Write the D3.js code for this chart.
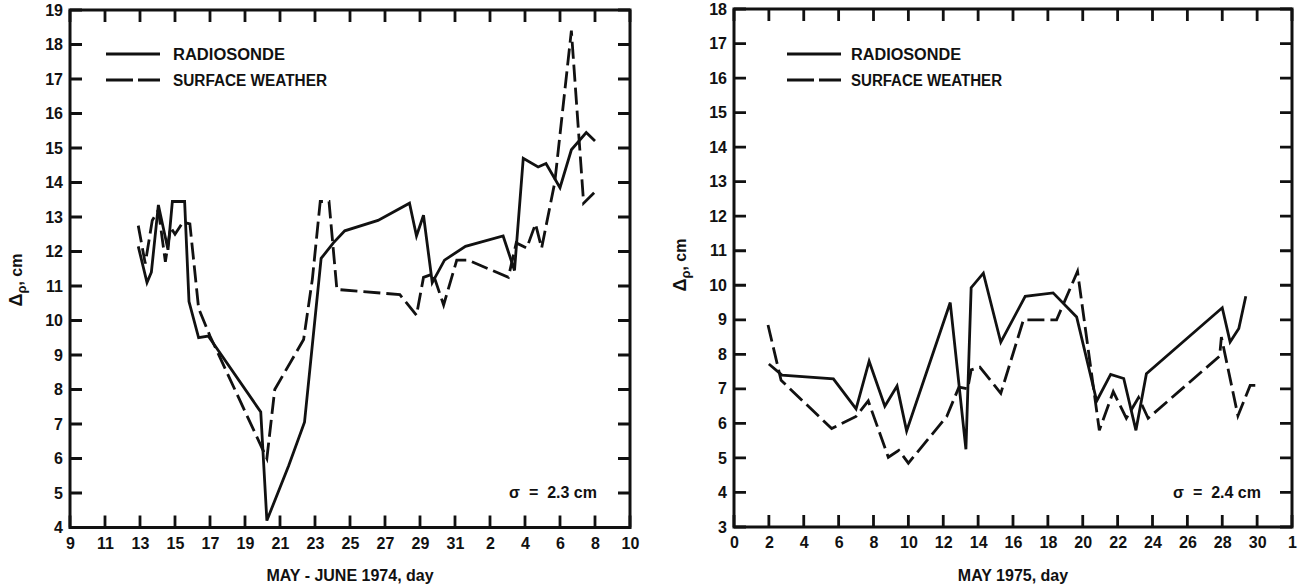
<!DOCTYPE html>
<html><head><meta charset="utf-8">
<script src="https://cdn.jsdelivr.net/npm/d3@7"></script>
<style>
body{margin:0;background:#fff}
svg text{font-family:"Liberation Sans",Arial,sans-serif;font-weight:bold;fill:#111}
</style>
</head><body><svg id="c" width="1300" height="584"></svg>
<script>
// ---------- DATA: 1974 (day counted from 1 May; 33 = 2 June) ----------
const rsDays1974 = [12.9,13.4,13.65,14.05,14.6,14.85,15.55,15.8,16.35,16.9,19.9,20.25,21.5,22.4,23.35,24.05,24.7,26.6,28.4,28.8,29.2,29.7,30.4,31.6,33.75,34.4,34.9,35.75,36.2,37.0,37.65,38.5,39.0];
const rsVals1974 = [12.15,11.1,11.4,13.35,12.05,13.45,13.45,10.55,9.5,9.55,7.35,4.2,5.8,7.05,11.8,12.25,12.6,12.9,13.4,12.45,13.05,11.1,11.75,12.15,12.45,11.45,14.7,14.45,14.55,13.85,14.95,15.45,15.2];
const swDays1974 = [12.9,13.3,13.7,14.05,14.45,14.75,15.0,15.45,15.85,16.35,17.0,20.25,20.7,22.35,22.85,23.3,23.8,24.25,27.85,28.8,29.2,29.75,30.35,31.1,31.75,34.05,34.5,35.1,35.6,35.95,36.7,37.65,38.35,38.95];
const swVals1974 = [12.75,11.65,12.9,13.2,11.7,12.7,12.5,12.85,12.8,10.35,9.55,6.0,8.0,9.45,11.2,13.45,13.45,10.9,10.75,10.15,11.25,11.35,10.45,11.75,11.75,11.25,12.25,12.1,12.8,12.1,14.0,18.4,13.4,13.7];
const xTicks1974 = [9,11,13,15,17,19,21,23,25,27,29,31,33,35,37,39,41];
const xLabels1974 = ["9","11","13","15","17","19","21","23","25","27","29","31","2","4","6","8","10"];
const yTicks1974 = [4,5,6,7,8,9,10,11,12,13,14,15,16,17,18,19];

// ---------- DATA: 1975 (day of May; 32 = 1 June) ----------
const rsDays1975 = [2.0,2.75,5.7,7.0,7.75,8.65,9.35,9.9,12.4,13.3,13.6,14.3,15.3,16.7,18.3,19.65,20.8,21.6,22.35,23.05,23.65,28.0,28.45,28.95,29.35];
const rsVals1975 = [7.72,7.4,7.29,6.42,7.8,6.5,7.08,5.78,9.5,5.25,9.93,10.35,8.35,9.68,9.78,9.08,6.65,7.42,7.3,5.8,7.44,9.35,8.36,8.75,9.68];
const swDays1975 = [1.95,2.7,5.6,7.0,7.7,8.85,9.45,10.0,12.2,12.9,13.4,13.6,14.1,15.3,16.6,18.5,19.7,20.95,21.75,22.5,23.2,23.75,27.85,27.95,28.9,29.6,30.0];
const swVals1975 = [8.85,7.25,5.85,6.2,6.65,5.02,5.22,4.85,6.2,7.05,7.0,7.55,7.63,6.87,9.0,9.0,10.4,5.8,6.92,6.15,6.75,6.15,7.95,8.5,6.22,7.1,7.1];
const xTicks1975 = [0,2,4,6,8,10,12,14,16,18,20,22,24,26,28,30,32];
const xLabels1975 = ["0","2","4","6","8","10","12","14","16","18","20","22","24","26","28","30","1"];
const yTicks1975 = [3,4,5,6,7,8,9,10,11,12,13,14,15,16,17,18];

const seriesNames = ["RADIOSONDE","SURFACE WEATHER"];

const svg = d3.select("#c");
const INK = "#111";
const TICK = 12;

function panel(cfg){
  const x = d3.scaleLinear().domain(cfg.xDomain).range([cfg.left, cfg.right]);
  const y = d3.scaleLinear().domain(cfg.yDomain).range([cfg.bottom, cfg.top]);
  const g = svg.append("g");

  const styleAxis = sel => {
    sel.select(".domain").remove();
    sel.selectAll(".tick line").remove();
    sel.selectAll("text").attr("font-size", 16).attr("fill", INK)
       .attr("font-family", '"Liberation Sans",Arial,sans-serif').attr("font-weight","bold");
  };

  g.append("g").attr("transform", `translate(0,${cfg.bottom})`)
    .call(d3.axisBottom(x).tickValues(cfg.xTicks).tickSize(0).tickPadding(10)
      .tickFormat((d,i)=>cfg.xLabels[i])).call(styleAxis);
  g.append("g").attr("transform", `translate(${cfg.left},0)`)
    .call(d3.axisLeft(y).tickValues(cfg.yTicks).tickSize(0).tickPadding(7)
      .tickFormat(d3.format("d"))).call(styleAxis);

  // inward tick marks on all four sides
  const tickPath = (vals, f) => vals.map(f).join("");
  g.append("path").attr("fill","none").attr("stroke", INK).attr("stroke-width", 2.8)
    .attr("d", tickPath(cfg.xTicks, d => `M${x(d)},${cfg.bottom}V${cfg.bottom - TICK}M${x(d)},${cfg.top}V${cfg.top + TICK}`)
             + tickPath(cfg.yTicks, d => `M${cfg.left},${y(d)}H${cfg.left + TICK}M${cfg.right},${y(d)}H${cfg.right - TICK}`));

  // frame
  g.append("rect").attr("x", cfg.left).attr("y", cfg.top)
    .attr("width", cfg.right - cfg.left).attr("height", cfg.bottom - cfg.top)
    .attr("fill","none").attr("stroke", INK).attr("stroke-width", 3);

  const line = d3.line().x(d=>x(d[0])).y(d=>y(d[1]));
  const rs = cfg.rsDays.map((d,i)=>[d,cfg.rsVals[i]]);
  const sw = cfg.swDays.map((d,i)=>[d,cfg.swVals[i]]);
  g.append("path").datum(sw).attr("d", line).attr("fill","none").attr("stroke",INK)
    .attr("stroke-width",2.8).attr("stroke-dasharray","17,6").attr("stroke-linejoin","miter");
  g.append("path").datum(rs).attr("d", line).attr("fill","none").attr("stroke",INK)
    .attr("stroke-width",2.8).attr("stroke-linejoin","miter");

  // legend
  const lg = g.append("g");
  lg.append("line").attr("x1",cfg.legX).attr("x2",cfg.legX+54).attr("y1",54).attr("y2",54)
    .attr("stroke",INK).attr("stroke-width",2.8);
  lg.append("line").attr("x1",cfg.legX).attr("x2",cfg.legX+54).attr("y1",80).attr("y2",80)
    .attr("stroke",INK).attr("stroke-width",2.8).attr("stroke-dasharray","27,5");
  lg.append("text").attr("x",cfg.legTextX).attr("y",54).attr("dy","0.36em").attr("font-size",16)
    .attr("textLength",cfg.legW[0]).attr("lengthAdjust","spacingAndGlyphs").text(seriesNames[0]);
  lg.append("text").attr("x",cfg.legTextX).attr("y",80).attr("dy","0.36em").attr("font-size",16)
    .attr("textLength",cfg.legW[1]).attr("lengthAdjust","spacingAndGlyphs").text(seriesNames[1]);

  g.append("text").attr("x",cfg.sigX).attr("y",492).attr("dy","0.36em").attr("font-size",16)
    .attr("text-anchor","end").attr("xml:space","preserve").text(cfg.sigma);

  g.append("text").attr("x",(cfg.left+cfg.right)/2).attr("y",575).attr("dy","0.36em")
    .attr("font-size",16).attr("text-anchor","middle").text(cfg.xTitle);

  const yt = g.append("text").attr("transform",`translate(${cfg.yTitleX},${cfg.yTitleY}) rotate(-90)`)
    .attr("text-anchor","middle").attr("font-size",16);
  yt.append("tspan").attr("font-size",18).text("Δ");
  yt.append("tspan").attr("font-size",13).attr("dy",4).text("ρ");
  yt.append("tspan").attr("dy",-4).text(", cm");
}

panel({xDomain:[9,41], yDomain:[4,19], left:70, right:630, top:10, bottom:527.5,
  xTicks:xTicks1974, xLabels:xLabels1974, yTicks:yTicks1974,
  rsDays:rsDays1974, rsVals:rsVals1974, swDays:swDays1974, swVals:swVals1974,
  legX:106, legTextX:173, legW:[112,154], sigX:597, sigma:"σ  =  2.3 cm",
  xTitle:"MAY - JUNE 1974, day", yTitleX:22, yTitleY:280});

panel({xDomain:[0,32], yDomain:[3,18], left:734, right:1292, top:9, bottom:527,
  xTicks:xTicks1975, xLabels:xLabels1975, yTicks:yTicks1975,
  rsDays:rsDays1975, rsVals:rsVals1975, swDays:swDays1975, swVals:swVals1975,
  legX:787, legTextX:851, legW:[110,151], sigX:1261, sigma:"σ  =  2.4 cm",
  xTitle:"MAY 1975, day", yTitleX:686, yTitleY:265});
</script></body></html>
